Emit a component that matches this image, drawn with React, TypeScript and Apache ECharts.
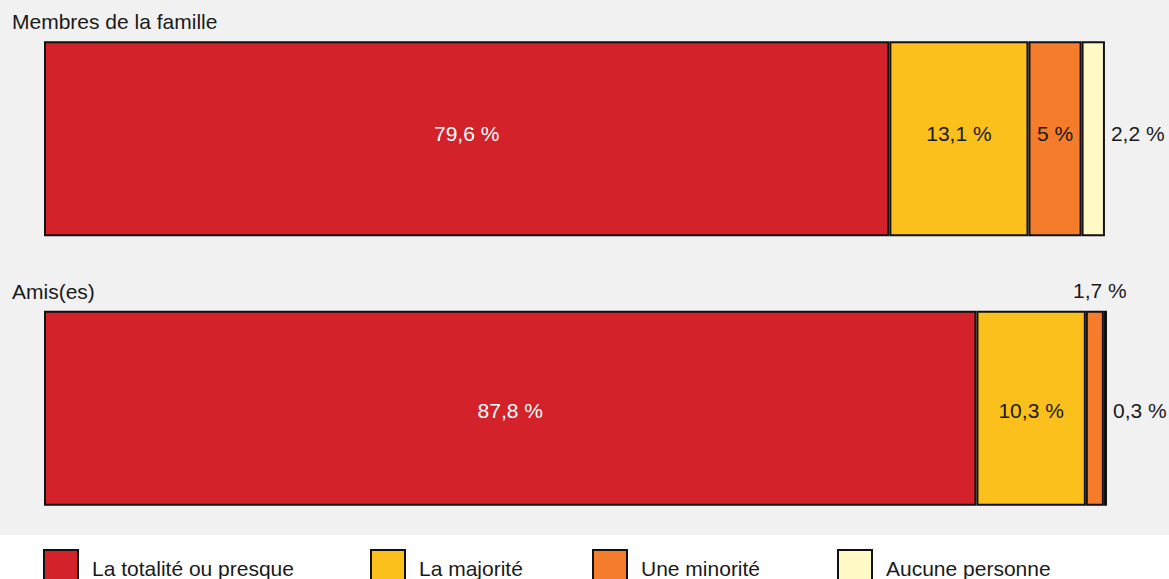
import React, { useEffect, useRef } from "react";
import * as echarts from "echarts";

const categories = ["Membres de la famille", "Amis(es)"];
const seriesNames = ["La totalité ou presque", "La majorité", "Une minorité", "Aucune personne"];
const totaliteValues = [79.6, 87.8];
const majoriteValues = [13.1, 10.3];
const minoriteValues = [5, 1.7];
const aucuneValues = [2.2, 0.3];

const colors = ["#d3222a", "#fbc01b", "#f47c2b", "#fff9c6"];
const FONT = "'Liberation Sans', Arial, Helvetica, sans-serif";

const fmt = (v: number) => String(v).replace(".", ",") + " %";

export default function App() {
  const ref = useRef<HTMLDivElement>(null);
  useEffect(() => {
    document.body.style.margin = "0";
    if (!ref.current) return;
    const chart = echarts.init(ref.current, null, { renderer: "svg" });

    const baseLabel = {
      show: true,
      fontFamily: FONT,
      fontSize: 21,
      formatter: (p: any) => fmt(p.value),
    };

    const itemStyleFor = (i: number) => ({
      color: colors[i],
      borderColor: "#111",
      borderWidth: 2,
    });

    const topOffset = (idx: number) => (idx === 0 ? [0, -5] : [0, 2]);

    const totaliteData = totaliteValues.map((v, idx) => ({
      value: v,
      label: { position: "inside", color: "#ffffff", offset: topOffset(idx) },
    }));
    const majoriteData = majoriteValues.map((v, idx) => ({
      value: v,
      label: { position: "inside", color: "#1a1a1a", offset: topOffset(idx) },
    }));
    const minoriteData = minoriteValues.map((v, idx) =>
      idx === 0
        ? { value: v, label: { position: "inside", color: "#1a1a1a", offset: topOffset(idx) } }
        : { value: v, label: { position: "top", color: "#1a1a1a", distance: 10, offset: [5, 0] } }
    );
    const aucuneData = aucuneValues.map((v, idx) => ({
      value: v,
      label: { position: "right", color: "#1a1a1a", distance: 6, offset: topOffset(idx) },
    }));

    const datas = [totaliteData, majoriteData, minoriteData, aucuneData];

    const legendLefts = [43, 370, 592, 837];

    const option: any = {
      animation: false,
      backgroundColor: "#ffffff",
      graphic: [
        {
          type: "rect",
          z: -10,
          silent: true,
          shape: { x: 0, y: 0, width: 1169, height: 535 },
          style: { fill: "#f1f1f1" },
        },
        {
          type: "text",
          left: 12,
          top: 11,
          style: { text: categories[0], font: `21px ${FONT}`, fill: "#1a1a1a" },
        },
        {
          type: "text",
          left: 12,
          top: 281,
          style: { text: categories[1], font: `21px ${FONT}`, fill: "#1a1a1a" },
        },
      ],
      legend: seriesNames.map((name, i) => ({
        data: [name],
        left: legendLefts[i],
        top: 549,
        itemWidth: 34,
        itemHeight: 36,
        padding: 0,
        selectedMode: false,
        icon: "rect",
        textStyle: {
          fontFamily: FONT,
          fontSize: 21,
          color: "#1a1a1a",
          padding: [0, 0, 0, 9],
        },
      })),
      grid: { left: 44, right: 63, top: 4, bottom: 36, containLabel: false },
      xAxis: { type: "value", min: 0, max: 100, show: false },
      yAxis: {
        type: "category",
        data: categories,
        inverse: true,
        show: false,
      },
      series: seriesNames.map((name, i) => ({
        name,
        type: "bar",
        stack: "total",
        barWidth: 195,
        data: datas[i],
        itemStyle: itemStyleFor(i),
        label: baseLabel,
        emphasis: { disabled: true },
      })),
    };

    chart.setOption(option);
    return () => chart.dispose();
  }, []);

  return <div ref={ref} style={{ width: 1169, height: 579 }} />;
}
